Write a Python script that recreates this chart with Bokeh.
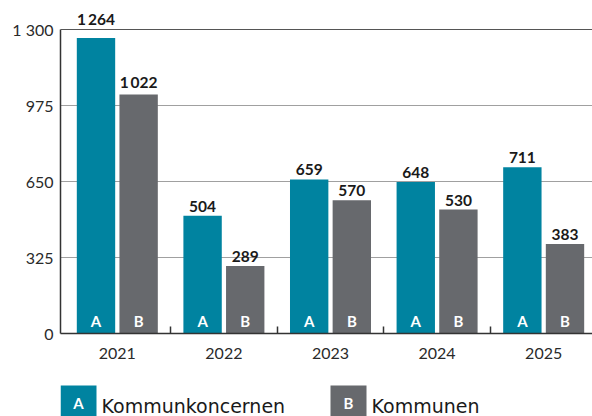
from bokeh.plotting import figure
from bokeh.models import FixedTicker, Range1d, ColumnDataSource, Span
from bokeh.layouts import column
from bokeh.core.properties import value
from bokeh.embed import file_html
from bokeh.resources import INLINE

# ---- data ----
years = ["2021", "2022", "2023", "2024", "2025"]
kommunkoncernen = [1264, 504, 659, 648, 711]
kommunen = [1022, 289, 570, 530, 383]
y_ticks = [0, 325, 650, 975, 1300]
series_names = ["Kommunkoncernen", "Kommunen"]
series_letters = ["A", "B"]

TEAL = "#0083a0"
GREY = "#67696d"
TXT = "#2a2a2a"

def fmt(v):
    s = f"{v:,}"
    return s.replace(",", "\u2009")

n = len(years)
centers = [i + 0.5 for i in range(n)]
off = 0.2
xa = [c - off for c in centers]
xb = [c + off for c in centers]
ymax = y_ticks[-1]

def label_offsets(vals):
    # push labels that would collide with the top line above it
    return [-10 if v > ymax - 70 else -4 for v in vals]

W = 592
p = figure(width=W, height=378, title=None,
           x_range=Range1d(-0.033, 4.958), y_range=Range1d(0, 1424),
           output_backend="svg", toolbar_location=None,
           min_border_left=60, min_border_right=0, min_border_top=0, min_border_bottom=45)
p.outline_line_color = None

src_a = ColumnDataSource(dict(x=xa, top=kommunkoncernen, lab=[fmt(v) for v in kommunkoncernen],
                              letter=[series_letters[0]] * n, zero=[0] * n,
                              yo=label_offsets(kommunkoncernen)))
src_b = ColumnDataSource(dict(x=xb, top=kommunen, lab=[fmt(v) for v in kommunen],
                              letter=[series_letters[1]] * n, zero=[0] * n,
                              yo=label_offsets(kommunen)))

bw = 0.36
p.vbar(x="x", top="top", width=bw, source=src_a, fill_color=TEAL, line_color=None)
p.vbar(x="x", top="top", width=bw, source=src_b, fill_color=GREY, line_color=None)

p.add_layout(Span(location=ymax, dimension="width", line_color="#555555", line_width=1.2))

for src in (src_a, src_b):
    p.text(x="x", y="top", text="lab", source=src, text_align="center", text_baseline="bottom",
           y_offset="yo", text_font=value("Lato"), text_font_style="bold",
           text_font_size="15.5px", text_color="#1a1a1a")
    p.text(x="x", y="zero", text="letter", source=src, text_align="center", text_baseline="middle",
           y_offset=-13, text_font=value("Lato"), text_font_style="bold",
           text_font_size="15px", text_color="white")

# x axis
p.xaxis.ticker = FixedTicker(ticks=centers, minor_ticks=[i for i in range(1, n)])
p.xaxis.major_label_overrides = {c: y for c, y in zip(centers, years)}
p.xaxis.major_tick_out = 0
p.xaxis.major_tick_in = 0
p.xaxis.major_tick_line_color = None
p.xaxis.minor_tick_in = 7
p.xaxis.minor_tick_out = 0
p.xaxis.minor_tick_line_color = "#333333"
p.xaxis.minor_tick_line_width = 1.5
p.xaxis.major_label_standoff = 14
p.xaxis.axis_line_color = "#333333"
p.xaxis.axis_line_width = 1.5

# y axis
p.yaxis.ticker = FixedTicker(ticks=y_ticks)
p.yaxis.major_label_overrides = {t: fmt(t).replace("\u2009", " ") for t in y_ticks}
p.yaxis.bounds = (0, ymax)
p.yaxis.major_tick_out = 0
p.yaxis.major_tick_in = 0
p.yaxis.minor_tick_line_color = None
p.yaxis.major_label_standoff = 7
p.yaxis.axis_line_color = "#333333"
p.yaxis.axis_line_width = 1.5

for ax in (p.xaxis, p.yaxis):
    ax.major_label_text_font = "Lato"
    ax.major_label_text_font_size = "16px"
    ax.major_label_text_color = TXT

p.xgrid.visible = False
p.ygrid.grid_line_color = "#a0a0a0"
p.ygrid.grid_line_width = 1

# ---- legend strip (x coordinates = page pixels) ----
lg = figure(width=W, height=38, title=None, x_range=Range1d(60, W), y_range=Range1d(0, 38),
            output_backend="svg", toolbar_location=None,
            min_border_left=60, min_border_right=0, min_border_top=0, min_border_bottom=0)
lg.outline_line_color = None
lg.axis.visible = False
lg.grid.visible = False

box_left = [60, 330]
box_w = 36
lg.quad(left=box_left, right=[b + box_w for b in box_left], bottom=[-3, -3], top=[31, 31],
        fill_color=[TEAL, GREY], line_color=None)
lg.text(x=[b + box_w / 2 for b in box_left], y=[14, 14], text=series_letters,
        text_align="center", text_baseline="middle", text_font=value("Lato"),
        text_font_style="bold", text_font_size="15px", text_color="white")
lg.text(x=[b + box_w + 5 for b in box_left], y=[11, 11], text=series_names,
        text_align="left", text_baseline="middle", text_font=value("DejaVu Sans"),
        text_font_size="19px", text_color="#1a1a1a")

layout = column(p, lg, spacing=0)
open("out.html", "w").write(file_html(layout, INLINE))
